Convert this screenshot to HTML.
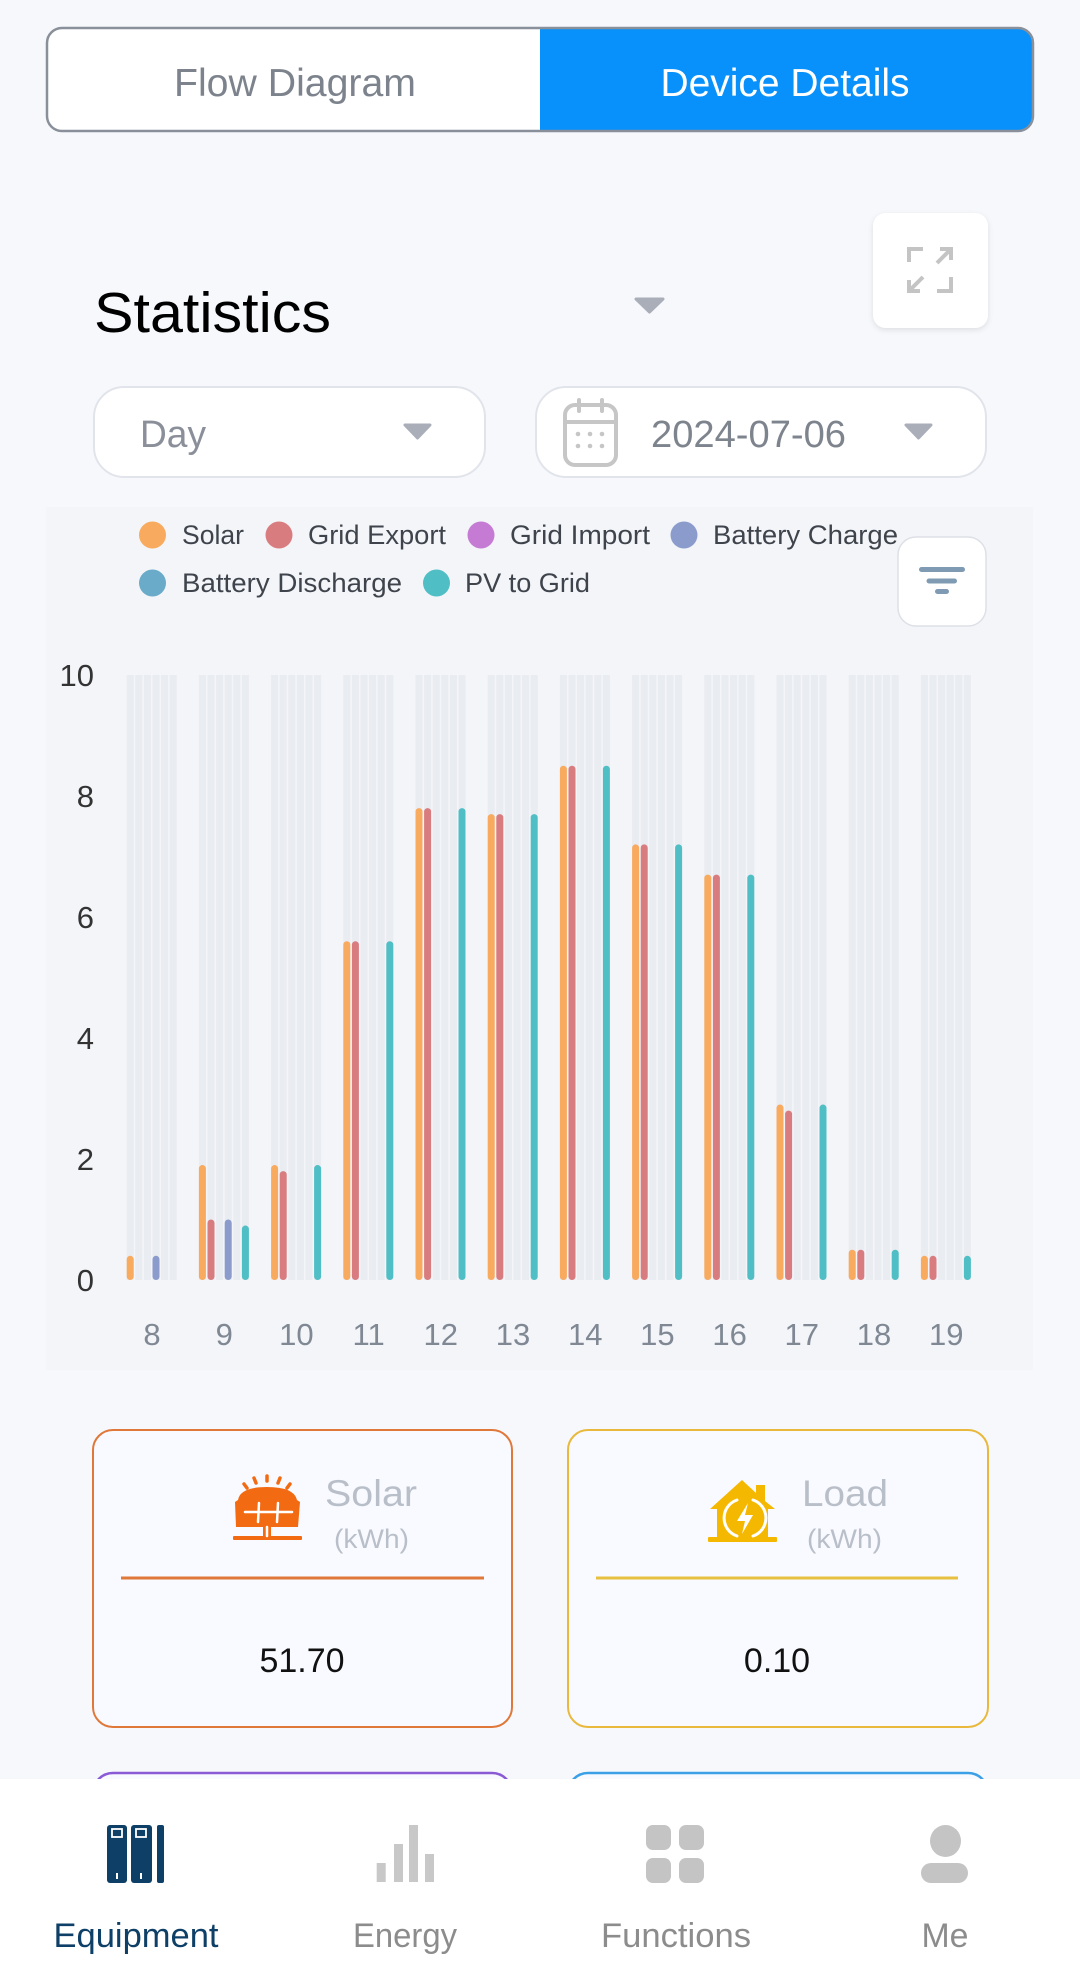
<!DOCTYPE html>
<html><head><meta charset="utf-8"><style>html,body{margin:0;padding:0;background:#f6f8fc}svg{display:block}</style></head>
<body>
<svg width="1080" height="1988" viewBox="0 0 1080 1988" xmlns="http://www.w3.org/2000/svg" font-family="'Liberation Sans', Arial, sans-serif">
<defs>
<clipPath id="tg"><rect x="47" y="28" width="986" height="103" rx="15"/></clipPath>
<filter id="sh" x="-20%" y="-20%" width="140%" height="140%"><feDropShadow dx="0" dy="2" stdDeviation="3" flood-color="#000" flood-opacity="0.10"/></filter>
<g id="st" fill="#e9ecf1">
<rect x="126.7" y="675" width="7" height="605"/><rect x="135.3" y="675" width="7" height="605"/><rect x="143.9" y="675" width="7" height="605"/><rect x="152.5" y="675" width="7" height="605"/><rect x="161.1" y="675" width="7" height="605"/><rect x="169.7" y="675" width="7" height="605"/>
</g>
</defs>
<rect width="1080" height="1988" fill="#f6f8fc"/>

<!-- toggle -->
<rect x="47" y="28" width="986" height="103" rx="15" fill="#fff"/>
<rect x="540" y="28" width="493" height="103" fill="#0890fb" clip-path="url(#tg)"/>
<rect x="47" y="28" width="986" height="103" rx="15" fill="none" stroke="#8a9099" stroke-width="2.5"/>
<text x="295" y="96" font-size="39" fill="#7d838c" text-anchor="middle" textLength="242" lengthAdjust="spacingAndGlyphs">Flow Diagram</text>
<text x="785" y="96" font-size="39" fill="#fff" text-anchor="middle" textLength="249" lengthAdjust="spacingAndGlyphs">Device Details</text>

<!-- statistics -->
<text x="94" y="332" font-size="57" fill="#000" textLength="237" lengthAdjust="spacingAndGlyphs">Statistics</text>
<path d="M636,299 L663,299 L649.5,312 Z" fill="#a9aeb9" stroke="#a9aeb9" stroke-width="3" stroke-linejoin="round"/>

<rect x="873" y="213" width="115" height="115" rx="13" fill="#fff" filter="url(#sh)"/>
<g fill="none" stroke="#c4c4c4" stroke-width="4">
<path d="M909,262 V249 H923"/>
<path d="M937,263 L950,250 M940,249 H951 V260"/>
<path d="M923,277 L910,290 M909,280 V291 H920"/>
<path d="M951,277 V291 H937"/>
</g>

<!-- day / date -->
<rect x="94" y="387" width="391" height="90" rx="30" fill="#fff" stroke="#e1e4ea" stroke-width="2"/>
<text x="140" y="447" font-size="38" fill="#8a8f99" textLength="66" lengthAdjust="spacingAndGlyphs">Day</text>
<path d="M405,425 L430,425 L417.5,438 Z" fill="#a9aeb9" stroke="#a9aeb9" stroke-width="3" stroke-linejoin="round"/>

<rect x="536" y="387" width="450" height="90" rx="30" fill="#fff" stroke="#e1e4ea" stroke-width="2"/>
<g fill="none" stroke="#c6c6c6" stroke-width="4" stroke-linecap="round">
<rect x="565" y="405" width="51" height="60" rx="10"/>
<path d="M565,422 H616 M579,400 V411 M602,400 V411"/>
</g>
<g fill="#c6c6c6"><circle cx="578" cy="434" r="2.3"/><circle cx="590" cy="434" r="2.3"/><circle cx="602" cy="434" r="2.3"/><circle cx="578" cy="446" r="2.3"/><circle cx="590" cy="446" r="2.3"/><circle cx="602" cy="446" r="2.3"/></g>
<text x="651" y="447" font-size="38" fill="#7e848d" textLength="195" lengthAdjust="spacingAndGlyphs">2024-07-06</text>
<path d="M906,425 L931,425 L918.5,438 Z" fill="#a9aeb9" stroke="#a9aeb9" stroke-width="3" stroke-linejoin="round"/>

<!-- chart -->
<rect x="46" y="507" width="987" height="863" fill="#f3f5f9"/>
<g font-size="27" fill="#3f444c">
<circle cx="152.5" cy="535" r="13.5" fill="#f8aa5f"/><text x="182" y="544" textLength="62" lengthAdjust="spacingAndGlyphs">Solar</text>
<circle cx="279" cy="535" r="13.5" fill="#d97c7f"/><text x="308" y="544" textLength="138" lengthAdjust="spacingAndGlyphs">Grid Export</text>
<circle cx="481" cy="535" r="13.5" fill="#c57bd3"/><text x="510" y="544" textLength="140" lengthAdjust="spacingAndGlyphs">Grid Import</text>
<circle cx="684" cy="535" r="13.5" fill="#8b9ccc"/><text x="713" y="544" textLength="185" lengthAdjust="spacingAndGlyphs">Battery Charge</text>
<circle cx="152.5" cy="583" r="13.5" fill="#6aabc9"/><text x="182" y="592" textLength="220" lengthAdjust="spacingAndGlyphs">Battery Discharge</text>
<circle cx="436.5" cy="583" r="13.5" fill="#4fbfc5"/><text x="465" y="592" textLength="125" lengthAdjust="spacingAndGlyphs">PV to Grid</text>
</g>
<rect x="898" y="537" width="88" height="89" rx="18" fill="#fff" stroke="#dde0e6" stroke-width="1.5"/>
<g stroke="#7f9bb3" stroke-width="5" stroke-linecap="round">
<path d="M921.5,569.5 H962.5 M929,581 H954.5 M937.5,591.5 H946.5"/>
</g>

<!-- y labels -->
<g font-size="31" fill="#333" text-anchor="end">
<text x="94" y="686">10</text>
<text x="94" y="807">8</text>
<text x="94" y="928">6</text>
<text x="94" y="1049">4</text>
<text x="94" y="1170">2</text>
<text x="94" y="1291">0</text>
</g>

<!-- stripes -->
<use href="#st" x="0"/><use href="#st" x="72.2"/><use href="#st" x="144.4"/><use href="#st" x="216.6"/><use href="#st" x="288.8"/><use href="#st" x="361"/><use href="#st" x="433.2"/><use href="#st" x="505.4"/><use href="#st" x="577.6"/><use href="#st" x="649.8"/><use href="#st" x="722"/><use href="#st" x="794.2"/>

<!-- bars: solar -->
<g fill="#f8aa5f">
<rect x="126.7" y="1255.8" width="7" height="24.2" rx="3.5"/>
<rect x="198.9" y="1165.05" width="7" height="114.95" rx="3.5"/>
<rect x="271.1" y="1165.05" width="7" height="114.95" rx="3.5"/>
<rect x="343.3" y="941.2" width="7" height="338.8" rx="3.5"/>
<rect x="415.5" y="808.1" width="7" height="471.9" rx="3.5"/>
<rect x="487.7" y="814.15" width="7" height="465.85" rx="3.5"/>
<rect x="559.9" y="765.75" width="7" height="514.25" rx="3.5"/>
<rect x="632.1" y="844.4" width="7" height="435.6" rx="3.5"/>
<rect x="704.3" y="874.65" width="7" height="405.35" rx="3.5"/>
<rect x="776.5" y="1104.55" width="7" height="175.45" rx="3.5"/>
<rect x="848.7" y="1249.75" width="7" height="30.25" rx="3.5"/>
<rect x="920.9" y="1255.8" width="7" height="24.2" rx="3.5"/>
</g>
<!-- grid export -->
<g fill="#d97c7f">
<rect x="207.5" y="1219.5" width="7" height="60.5" rx="3.5"/>
<rect x="279.7" y="1171.1" width="7" height="108.9" rx="3.5"/>
<rect x="351.9" y="941.2" width="7" height="338.8" rx="3.5"/>
<rect x="424.1" y="808.1" width="7" height="471.9" rx="3.5"/>
<rect x="496.3" y="814.15" width="7" height="465.85" rx="3.5"/>
<rect x="568.5" y="765.75" width="7" height="514.25" rx="3.5"/>
<rect x="640.7" y="844.4" width="7" height="435.6" rx="3.5"/>
<rect x="712.9" y="874.65" width="7" height="405.35" rx="3.5"/>
<rect x="785.1" y="1110.6" width="7" height="169.4" rx="3.5"/>
<rect x="857.3" y="1249.75" width="7" height="30.25" rx="3.5"/>
<rect x="929.5" y="1255.8" width="7" height="24.2" rx="3.5"/>
</g>
<!-- battery charge -->
<g fill="#8b9ccc">
<rect x="152.5" y="1255.8" width="7" height="24.2" rx="3.5"/>
<rect x="224.7" y="1219.5" width="7" height="60.5" rx="3.5"/>
</g>
<!-- pv to grid -->
<g fill="#4fbfc5">
<rect x="241.9" y="1225.55" width="7" height="54.45" rx="3.5"/>
<rect x="314.1" y="1165.05" width="7" height="114.95" rx="3.5"/>
<rect x="386.3" y="941.2" width="7" height="338.8" rx="3.5"/>
<rect x="458.5" y="808.1" width="7" height="471.9" rx="3.5"/>
<rect x="530.7" y="814.15" width="7" height="465.85" rx="3.5"/>
<rect x="602.9" y="765.75" width="7" height="514.25" rx="3.5"/>
<rect x="675.1" y="844.4" width="7" height="435.6" rx="3.5"/>
<rect x="747.3" y="874.65" width="7" height="405.35" rx="3.5"/>
<rect x="819.5" y="1104.55" width="7" height="175.45" rx="3.5"/>
<rect x="891.7" y="1249.75" width="7" height="30.25" rx="3.5"/>
<rect x="963.9" y="1255.8" width="7" height="24.2" rx="3.5"/>
</g>

<!-- x labels -->
<g font-size="31" fill="#7f8893" text-anchor="middle">
<text x="152" y="1345">8</text><text x="224.2" y="1345">9</text><text x="296.4" y="1345">10</text><text x="368.6" y="1345">11</text><text x="440.8" y="1345">12</text><text x="513" y="1345">13</text><text x="585.2" y="1345">14</text><text x="657.4" y="1345">15</text><text x="729.6" y="1345">16</text><text x="801.8" y="1345">17</text><text x="874" y="1345">18</text><text x="946.2" y="1345">19</text>
</g>

<!-- cards -->
<rect x="93" y="1430" width="419" height="297" rx="20" fill="#f9faff" stroke="#e0783a" stroke-width="2"/>
<rect x="568" y="1430" width="420" height="297" rx="20" fill="#f9faff" stroke="#e8b93c" stroke-width="2"/>
<line x1="121" y1="1578" x2="484" y2="1578" stroke="#e0783a" stroke-width="3"/>
<line x1="596" y1="1578" x2="958" y2="1578" stroke="#e8c040" stroke-width="3"/>

<!-- solar icon -->
<g fill="#f26a12">
<g stroke="#f26a12" stroke-width="3.5" stroke-linecap="round">
<path d="M244,1484 L247,1488 M254,1478 L256,1483 M267,1476 L267,1481 M280,1478 L278,1483 M290,1484 L287,1488"/>
</g>
<path d="M238,1500 Q240,1487 267,1487 Q294,1487 297,1500 L300,1502 L298,1527 L236,1527 L235,1502 Z"/>
<rect x="263" y="1526" width="8" height="10"/>
<rect x="233" y="1536" width="69" height="4" rx="1"/>
</g>
<g stroke="#fff" stroke-width="2.5" stroke-linecap="round">
<path d="M245,1512 H292 M258,1522 L259,1503 M277,1522 L278,1503 M267,1527 V1536"/>
</g>
<text x="325" y="1506" font-size="37" fill="#b9bfc9" textLength="92" lengthAdjust="spacingAndGlyphs">Solar</text>
<text x="334" y="1548" font-size="27" fill="#b9bfc9" textLength="75" lengthAdjust="spacingAndGlyphs">(kWh)</text>
<text x="302" y="1672" font-size="34" fill="#111" text-anchor="middle">51.70</text>

<!-- load icon -->
<g fill="#f5b800">
<path d="M710,1509 L742,1480 L756,1493 L756,1485 L765,1485 L765,1501 L775,1509 L768,1509 L768,1537 L717,1537 L717,1509 Z"/>
<rect x="708" y="1537" width="69" height="5" rx="1"/>
</g>
<g fill="none" stroke="#fff" stroke-width="3" stroke-linecap="round">
<path d="M737,1500 A19,19 0 0 0 737,1536"/>
<path d="M753,1500 A19,19 0 0 1 753,1536"/>
</g>
<path d="M748,1503 L737,1521 L745,1521 L742,1534 L753,1515 L745,1515 Z" fill="#fff"/>
<text x="802" y="1506" font-size="37" fill="#b9bfc9" textLength="86" lengthAdjust="spacingAndGlyphs">Load</text>
<text x="807" y="1548" font-size="27" fill="#b9bfc9" textLength="75" lengthAdjust="spacingAndGlyphs">(kWh)</text>
<text x="777" y="1672" font-size="34" fill="#111" text-anchor="middle">0.10</text>

<!-- next row cards (partially hidden) -->
<rect x="93" y="1773" width="419" height="297" rx="20" fill="#f9faff" stroke="#8b5bd6" stroke-width="2.5"/>
<rect x="568" y="1773" width="420" height="297" rx="20" fill="#f9faff" stroke="#3ba0e6" stroke-width="2.5"/>

<!-- bottom nav -->
<rect x="0" y="1779" width="1080" height="209" fill="#fff"/>
<g fill="#0e3f66">
<rect x="107" y="1825" width="20" height="58" rx="3"/>
<rect x="131" y="1825" width="21" height="58" rx="3"/>
<rect x="157" y="1825" width="7" height="58" rx="2"/>
</g>
<g fill="none" stroke="#fff" stroke-width="1.8">
<rect x="112" y="1829" width="10" height="8"/>
<rect x="136" y="1829" width="10" height="8"/>
</g>
<g fill="#fff"><rect x="116" y="1873" width="2" height="6"/><rect x="140" y="1873" width="2" height="6"/></g>

<g fill="#c8c8c8">
<rect x="376.7" y="1863" width="9" height="19"/>
<rect x="394" y="1844" width="9" height="38"/>
<rect x="409" y="1825" width="9" height="57"/>
<rect x="425" y="1854" width="9" height="28"/>
</g>
<g fill="#c4c4c4">
<rect x="646" y="1825" width="25" height="25" rx="7"/>
<rect x="679" y="1825" width="25" height="25" rx="7"/>
<rect x="646" y="1858" width="25" height="25" rx="7"/>
<rect x="679" y="1858" width="25" height="25" rx="7"/>
<ellipse cx="945.5" cy="1841" rx="15.5" ry="16"/>
<rect x="921" y="1863" width="47" height="20" rx="10"/>
</g>
<g font-size="34" text-anchor="middle">
<text x="136" y="1947" fill="#0e3f66" textLength="165" lengthAdjust="spacingAndGlyphs">Equipment</text>
<text x="405" y="1947" fill="#8c8c8c" textLength="104" lengthAdjust="spacingAndGlyphs">Energy</text>
<text x="676" y="1947" fill="#8c8c8c" textLength="150" lengthAdjust="spacingAndGlyphs">Functions</text>
<text x="945" y="1947" fill="#8c8c8c" textLength="47" lengthAdjust="spacingAndGlyphs">Me</text>
</g>
</svg>
</body></html>
